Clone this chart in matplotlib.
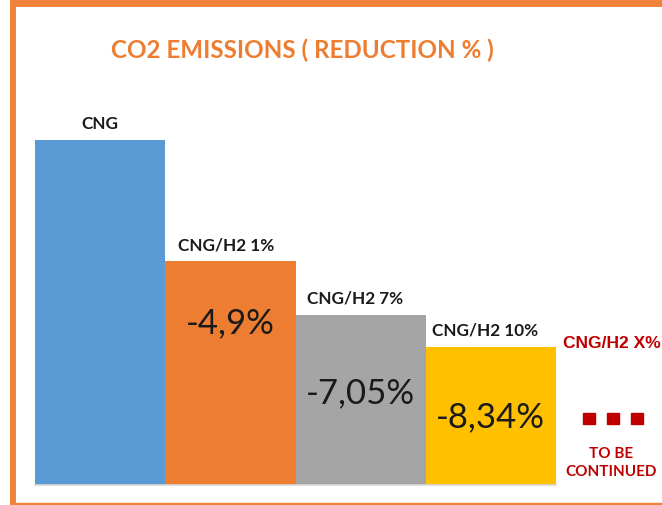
import matplotlib
matplotlib.use("Agg")
import matplotlib.pyplot as plt
from matplotlib.patches import Rectangle

# ---- data ----
categories = ["CNG", "CNG/H2 1%", "CNG/H2 7%", "CNG/H2 10%"]
values = [100.0, 95.1, 92.95, 91.66]          # relative CO2 emissions (CNG = 100)
value_labels = ["", "-4,9%", "-7,05%", "-8,34%"]
bar_colors = ["#5b9bd5", "#ed7d31", "#a5a5a5", "#ffc000"]
extra_label = "CNG/H2 X%"
continued_text = "TO BE\nCONTINUED"
title = "CO2 EMISSIONS ( REDUCTION % )"

W, H = 662, 505
fig = plt.figure(figsize=(W / 100, H / 100), dpi=100)
fig.patch.set_facecolor("white")

# orange frame (open on the right)
ORANGE = "#f0833a"
fig.add_artist(plt.Line2D([13 / W, 13 / W], [0, 1], color=ORANGE, lw=4.3,
                          transform=fig.transFigure, solid_capstyle="butt"))
fig.add_artist(plt.Line2D([11 / W, 1], [1 - 3 / H, 1 - 3 / H], color=ORANGE, lw=5,
                          transform=fig.transFigure, solid_capstyle="butt"))
fig.add_artist(plt.Line2D([11 / W, 1], [1.5 / H, 1.5 / H], color=ORANGE, lw=2.5,
                          transform=fig.transFigure, solid_capstyle="butt"))

# axes: x from 35 to 556 px, baseline at y=485 px
ax_left, ax_right = 35, 556
ax_bottom_px, ax_top_px = 485, 20
ax = fig.add_axes([ax_left / W, (H - ax_bottom_px) / H,
                   (ax_right - ax_left) / W, (ax_bottom_px - ax_top_px) / H])
ymin = 86.07
px_per_unit = (485 - 140) / (100 - ymin)
ax.set_ylim(ymin, ymin + (ax_bottom_px - ax_top_px) / px_per_unit)
ax.set_xlim(-0.5, len(categories) - 0.5)
ax.axis("off")

x = list(range(len(categories)))
ax.bar(x, [v - ymin for v in values], bottom=ymin, width=1.0, color=bar_colors,
       edgecolor="none")
ax.plot([-0.5, len(categories) - 0.5], [ymin, ymin], color="#d9d9d9", lw=1.2,
        clip_on=False)

FONT = ["Lato", "DejaVu Sans"]
label_dx = [0, -4, -6, -6]
for xi, v, lab, dx in zip(x, values, categories, label_dx):
    ax.annotate(lab, (xi, v), xytext=(dx, 16), textcoords="offset pixels",
                ha="center", va="center", fontsize=12.3, fontweight="bold",
                family=FONT, color="#1a1a1a")

value_dy = [0, -62, -79, -71]
for xi, v, lab, dy in zip(x, values, value_labels, value_dy):
    if lab:
        ax.annotate(lab, (xi, v), xytext=(0, dy), textcoords="offset pixels",
                    ha="center", va="center", fontsize=25, family=FONT,
                    color="#1a1a1a")

# title
fig.text(302 / W, 1 - 50 / H, title, ha="center", va="center", fontsize=17.4,
         fontweight="bold", family=FONT, color="#ed7d31")

# "to be continued" block
RED = "#c00000"
fig.text(612 / W, 1 - 343 / H, extra_label, ha="center", va="center",
         fontsize=12.5, fontweight="bold", family=["Liberation Sans"], color=RED)
for cx in (589, 613, 637):
    fig.add_artist(Rectangle(((cx - 6) / W, 1 - 424 / H), 12 / W, 11 / H,
                             transform=fig.transFigure, color=RED))
fig.text(611 / W, 1 - 463 / H, continued_text, ha="center", va="center",
         fontsize=11, fontweight="bold", family=FONT, color=RED,
         linespacing=1.45)

fig.savefig("out.png", dpi=100)
